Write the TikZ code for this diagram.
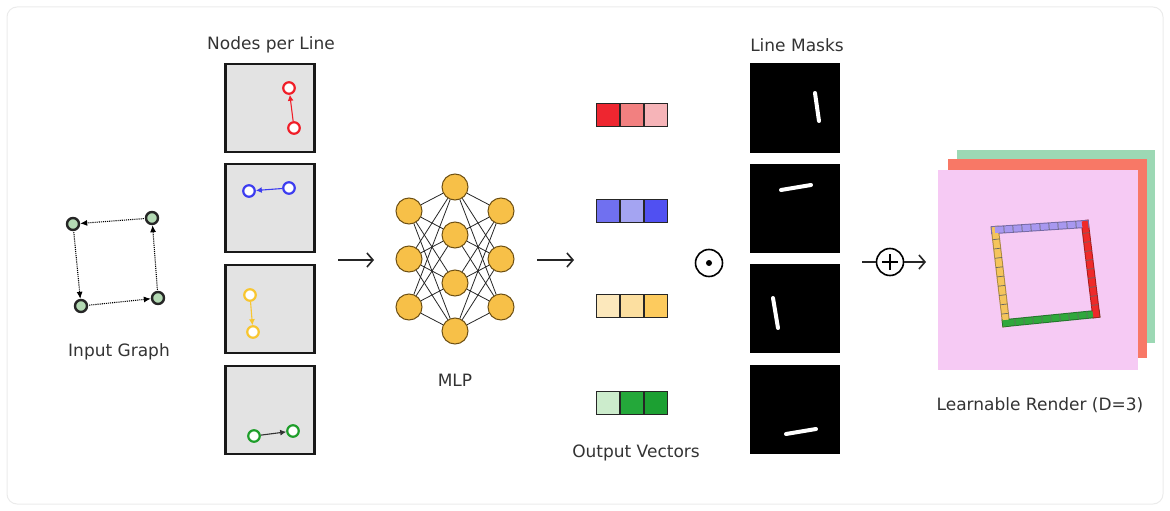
\documentclass[tikz,border=0pt]{standalone}
\usepackage{fontspec}
\setmainfont{DejaVu Sans}
\usetikzlibrary{arrows.meta,calc}

\definecolor{gnode}{HTML}{B4DAB4}
\definecolor{panel}{HTML}{E3E3E3}
\definecolor{mlpfill}{HTML}{F7C048}
\definecolor{mlpdraw}{HTML}{6E5014}
\definecolor{lred}{HTML}{F01E28}
\definecolor{lblue}{HTML}{3C3CF0}
\definecolor{lyellow}{HTML}{F8C630}
\definecolor{lgreen}{HTML}{1E9E2A}
\definecolor{rgreen}{HTML}{9CD8B4}
\definecolor{rred}{HTML}{F87866}
\definecolor{rpink}{HTML}{F6CAF4}
\definecolor{bpurple}{HTML}{A898F0}
\definecolor{bred}{HTML}{EE2A2A}
\definecolor{bgreen}{HTML}{30A83C}
\definecolor{byellow}{HTML}{F4C45C}

\tikzset{
  lbl/.style={font=\fontsize{17}{20}\selectfont, text=black!80},
  gnodestyle/.style={circle, draw=black!85, line width=2.4pt, fill=gnode, minimum size=12pt, inner sep=0pt},
  gedge/.style={densely dotted, line width=1.1pt, -{Latex[length=7pt,width=6pt]}, shorten <=1pt},
  panelbox/.style={draw=black!90, line width=2.2pt, fill=panel, minimum width=89pt, minimum height=88pt, inner sep=0pt},
  pnode/.style={circle, draw=#1, line width=2.2pt, fill=white, minimum size=11.5pt, inner sep=0pt},
  pedge/.style={draw=#1, line width=1.1pt, -{Latex[length=6pt,width=6pt]}},
  neuron/.style={circle, draw=mlpdraw, line width=1pt, fill=mlpfill, minimum size=26pt, inner sep=0pt},
  wire/.style={draw=black!85, line width=0.8pt},
  flow/.style={line width=1.6pt, draw=black!85, -{Straight Barb[length=6pt,width=14pt,line width=1.6pt]}},
  cell/.style={draw=black!85, line width=1.4pt, minimum size=23pt, inner sep=0pt, fill=#1},
  maskbox/.style={fill=black, minimum width=90pt, minimum height=89pt, inner sep=0pt},
  stroke/.style={draw=white, line width=4pt, line cap=round},
  opcircle/.style={circle, draw=black, line width=1.6pt, minimum size=27pt, inner sep=0pt},
  layer/.style={fill=#1, draw=none, inner sep=0pt},
  tickmark/.style={fill=black!60, draw=none, inner sep=0pt, minimum width=0.7pt, minimum height=7pt, sloped}
}

\begin{document}
\begin{tikzpicture}[x=1pt,y=-1pt]
\useasboundingbox (0,0) rectangle (1170,511);
% faint outer card
\draw[black!8, line width=1pt, rounded corners=10pt] (7,7) rectangle (1163,504);

% ---------- input graph ----------
\node[gnodestyle] (g1) at (73,224) {};
\node[gnodestyle] (g2) at (152,218) {};
\node[gnodestyle] (g3) at (81,306) {};
\node[gnodestyle] (g4) at (158,298) {};
\draw[gedge] (g2) -- (g1);
\draw[gedge] (g1) -- (g3);
\draw[gedge] (g3) -- (g4);
\draw[gedge] (g4) -- (g2);
\node[lbl] (tin) at (119,352) {Input Graph};

% ---------- nodes per line ----------
\node[lbl] (tnpl) at (271,45) {Nodes per Line};
\node[panelbox] (p1) at (270,108) {};
\node[panelbox] (p2) at (270,208) {};
\node[panelbox] (p3) at (270,309) {};
\node[panelbox] (p4) at (270,410) {};

\node[pnode=lred] (r1) at (289,88) {};
\node[pnode=lred] (r2) at (294,128) {};
\draw[pedge=lred] (r2) -- (r1);

\node[pnode=lblue] (b1) at (249,191) {};
\node[pnode=lblue] (b2) at (289,188) {};
\draw[pedge=lblue] (b2) -- (b1);

\node[pnode=lyellow] (y1) at (250,295) {};
\node[pnode=lyellow] (y2) at (253,332) {};
\draw[pedge=lyellow] (y1) -- (y2);

\node[pnode=lgreen] (e1) at (254,436) {};
\node[pnode=lgreen] (e2) at (293,431) {};
\draw[pedge=black!80] (e1) -- (e2);

% ---------- arrow into MLP ----------
\coordinate (a1s) at (338,260);
\coordinate (a1e) at (374,260);
\draw[flow] (a1s) -- (a1e);

% ---------- MLP ----------
\foreach \i/\y in {1/211,2/259,3/307} {
  \node[neuron] (A\i) at (409,\y) {};
  \node[neuron] (C\i) at (501,\y) {};
}
\foreach \j/\y in {1/187,2/235,3/283,4/331} {
  \node[neuron] (B\j) at (455,\y) {};
}
\foreach \i in {1,2,3} {
  \foreach \j in {1,2,3,4} {
    \draw[wire] (A\i) -- (B\j);
    \draw[wire] (B\j) -- (C\i);
  }
}
\node[lbl] (tmlp) at (455,380) {MLP};

% ---------- arrow out of MLP ----------
\coordinate (a2s) at (537,260);
\coordinate (a2e) at (574,260);
\draw[flow] (a2s) -- (a2e);

% ---------- output vectors ----------
\definecolor{v11}{HTML}{EE2630}\definecolor{v12}{HTML}{F28080}\definecolor{v13}{HTML}{F6B4B8}
\definecolor{v21}{HTML}{7070F0}\definecolor{v22}{HTML}{A4A4F2}\definecolor{v23}{HTML}{5050F2}
\definecolor{v31}{HTML}{FCE8BC}\definecolor{v32}{HTML}{FCDFA0}\definecolor{v33}{HTML}{FDCB5E}
\definecolor{v41}{HTML}{CCECCC}\definecolor{v42}{HTML}{24A83A}\definecolor{v43}{HTML}{1CA032}
\foreach \r/\y in {1/115,2/211,3/306,4/403} {
  \foreach \c/\x in {1/608,2/632,3/656} {
    \node[cell=v\r\c] (v\r\c) at (\x,\y) {};
  }
}
\node[lbl] (tov) at (636,453) {Output Vectors};

% ---------- elementwise product ----------
\node[opcircle] (odot) at (709,263) {};
\node[circle, fill=black, minimum size=6pt, inner sep=0pt] (odotc) at (odot.center) {};

% ---------- line masks ----------
\node[lbl] (tlm) at (797,45) {Line Masks};
\node[maskbox] (m1) at (795,108) {};
\node[maskbox] (m2) at (795,208) {};
\node[maskbox] (m3) at (795,308) {};
\node[maskbox] (m4) at (795,409) {};
\coordinate (s1a) at (815,93);  \coordinate (s1b) at (819,121);
\coordinate (s2a) at (781,190); \coordinate (s2b) at (811,185);
\coordinate (s3a) at (773,298); \coordinate (s3b) at (778,328);
\coordinate (s4a) at (786,434); \coordinate (s4b) at (816,429);
\draw[stroke] (s1a) -- (s1b);
\draw[stroke] (s2a) -- (s2b);
\draw[stroke] (s3a) -- (s3b);
\draw[stroke] (s4a) -- (s4b);

% ---------- sum ----------
\coordinate (a3s) at (862,262);
\node[opcircle] (oplus) at (890,262) {};
\coordinate (a3e) at (926,262);
\draw[line width=1.6pt, draw=black!85] (a3s) -- (oplus);
\draw[line width=1.6pt] (oplus.center) ++(-8,0) -- ++(16,0);
\draw[line width=1.6pt] (oplus.center) ++(0,-8) -- ++(0,16);
\draw[flow] (oplus) -- (a3e);

% ---------- learnable render ----------
\node[layer=rgreen, minimum width=198pt, minimum height=193pt] (L3) at (1056,246) {};
\node[layer=rred, minimum width=199pt, minimum height=199pt] (L2) at (1047,258) {};
\node[layer=rpink, minimum width=200pt, minimum height=200pt] (L1) at (1038,270) {};

\coordinate (q1) at (995,230);
\coordinate (q2) at (1085,224);
\coordinate (q3) at (1096,314);
\coordinate (q4) at (1006,323);
\draw[draw=byellow!70!black, line width=8pt, line cap=rect] (q1) -- (q4);
\draw[draw=bgreen!70!black, line width=8pt, line cap=rect] (q4) -- (q3);
\draw[draw=bred!70!black, line width=8pt, line cap=rect] (q2) -- (q3);
\draw[draw=bpurple!70!black, line width=8pt, line cap=rect] (q1) -- (q2);
\draw[draw=byellow, line width=6pt, line cap=rect] (q1) -- (q4);
\draw[draw=bgreen, line width=6pt, line cap=rect] (q4) -- (q3);
\draw[draw=bpurple, line width=6pt] (q1) -- (q2);
\draw[draw=bred, line width=6pt, line cap=rect] (q2) -- (q3);
\foreach \t in {0.1,0.2,...,0.95} {
  \path (q1) -- (q2) node[tickmark, pos=\t] {};
  \path (q2) -- (q3) node[tickmark, pos=\t] {};
  \path (q4) -- (q3) node[tickmark, pos=\t] {};
  \path (q1) -- (q4) node[tickmark, pos=\t] {};
}
\node[lbl] (tlr) at (1040,405) {Learnable Render (D=3)};
\end{tikzpicture}
\end{document}
